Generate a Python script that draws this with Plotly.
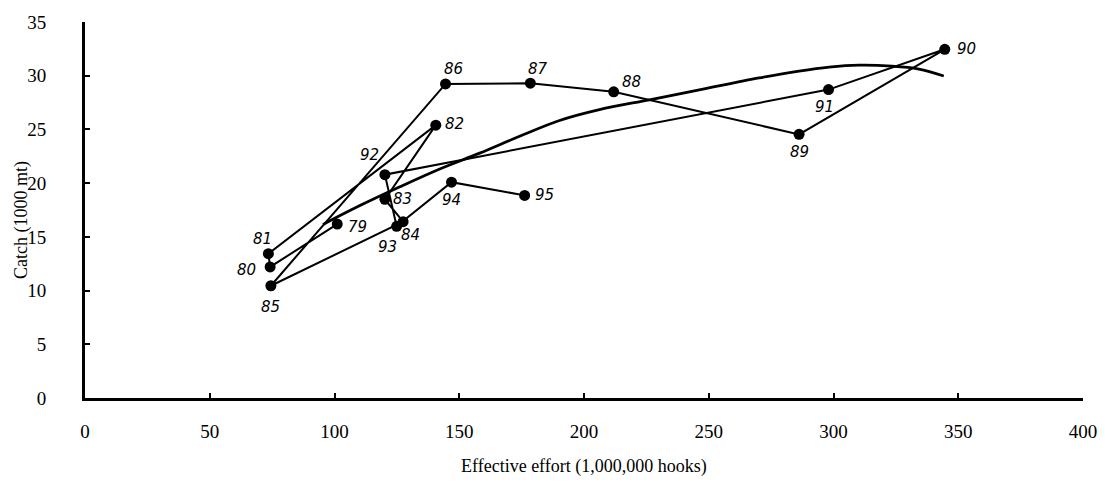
import plotly.graph_objects as go

# Annual effort and catch, 1979-1995
years = ["79", "80", "81", "82", "83", "84", "85", "86", "87",
         "88", "89", "90", "91", "92", "93", "94", "95"]
effort = [101.1, 74.2, 73.5, 140.6, 120.2, 127.5, 74.5, 144.5, 178.5,
          211.9, 286.2, 344.6, 298.0, 120.2, 124.9, 146.9, 176.2]
catch = [16.19, 12.2, 13.43, 25.4, 18.49, 16.41, 10.45, 29.24, 29.3,
         28.5, 24.54, 32.46, 28.71, 20.79, 15.98, 20.09, 18.86]

# Hand-fitted production curve traced through the cloud of points
curve_effort = [95.4, 110.2, 126.2, 142.2, 158.2, 174.2, 190.2, 206.2, 226.2,
                246.2, 270.2, 286.2, 298.2, 310.2, 323.4, 334.2, 344.2]
curve_catch = [16.16, 17.91, 19.66, 21.32, 22.79, 24.36, 25.83, 26.84, 27.76,
               28.68, 29.79, 30.43, 30.8, 30.98, 30.89, 30.62, 29.97]

x_ticks = [0, 50, 100, 150, 200, 250, 300, 350, 400]
y_ticks = [0, 5, 10, 15, 20, 25, 30, 35]

# Pixel offsets of each year label from its point
label_shift = {
    "79": (20, -3), "80": (-24, -3), "81": (-6, 15), "82": (19, 1),
    "83": (18, 0), "84": (7, -13), "85": (0, -21), "86": (8, 15),
    "87": (8, 14), "88": (18, 10), "89": (0, -18), "90": (22, 0),
    "91": (-4, -17), "92": (-15, 20), "93": (-9, -21), "94": (0, -18),
    "95": (20, 0),
}

serif = "Liberation Serif, Times New Roman, serif"
hand = "DejaVu Sans, sans-serif"

fig = go.Figure()

fig.add_trace(go.Scatter(
    x=curve_effort, y=curve_catch, mode="lines",
    line=dict(color="black", width=2.8, shape="spline", smoothing=1.0),
    hoverinfo="skip", showlegend=False,
))

fig.add_trace(go.Scatter(
    x=effort, y=catch, mode="lines+markers",
    line=dict(color="black", width=2),
    marker=dict(color="black", size=11),
    text=years, showlegend=False,
))

for yr, xv, yv in zip(years, effort, catch):
    dx, dy = label_shift[yr]
    fig.add_annotation(
        x=xv, y=yv, text=yr, showarrow=False,
        xshift=dx, yshift=dy,
        font=dict(family=hand, size=15, color="black", style="italic"),
    )

# Axis titles placed below / left of the plot area
fig.add_annotation(
    x=0.5, y=0, xref="paper", yref="paper", xanchor="center", yanchor="middle",
    yshift=-68, text="Effective effort (1,000,000 hooks)",
    showarrow=False, font=dict(family=serif, size=18, color="black"),
)
fig.add_annotation(
    x=0, y=0.5, xref="paper", yref="paper", xanchor="center", yanchor="middle",
    xshift=-64, yshift=-10, text="Catch (1000 mt)",
    textangle=-90, showarrow=False, font=dict(family=serif, size=18, color="black"),
)

axis_common = dict(
    showline=True, linecolor="black", linewidth=3,
    ticks="inside", ticklen=5, tickwidth=2, tickcolor="black",
    showgrid=False, zeroline=False,
    tickfont=dict(family=serif, size=19, color="black"),
)

fig.update_layout(
    width=1109, height=486,
    margin=dict(l=85, r=25, t=17, b=88),
    paper_bgcolor="white", plot_bgcolor="white",
    xaxis=dict(range=[0, 400], tickvals=x_ticks, ticklabelstandoff=14, **axis_common),
    yaxis=dict(range=[0, 35], tickvals=y_ticks, ticklabelstandoff=32, **axis_common),
)

fig.write_html("out.html")
